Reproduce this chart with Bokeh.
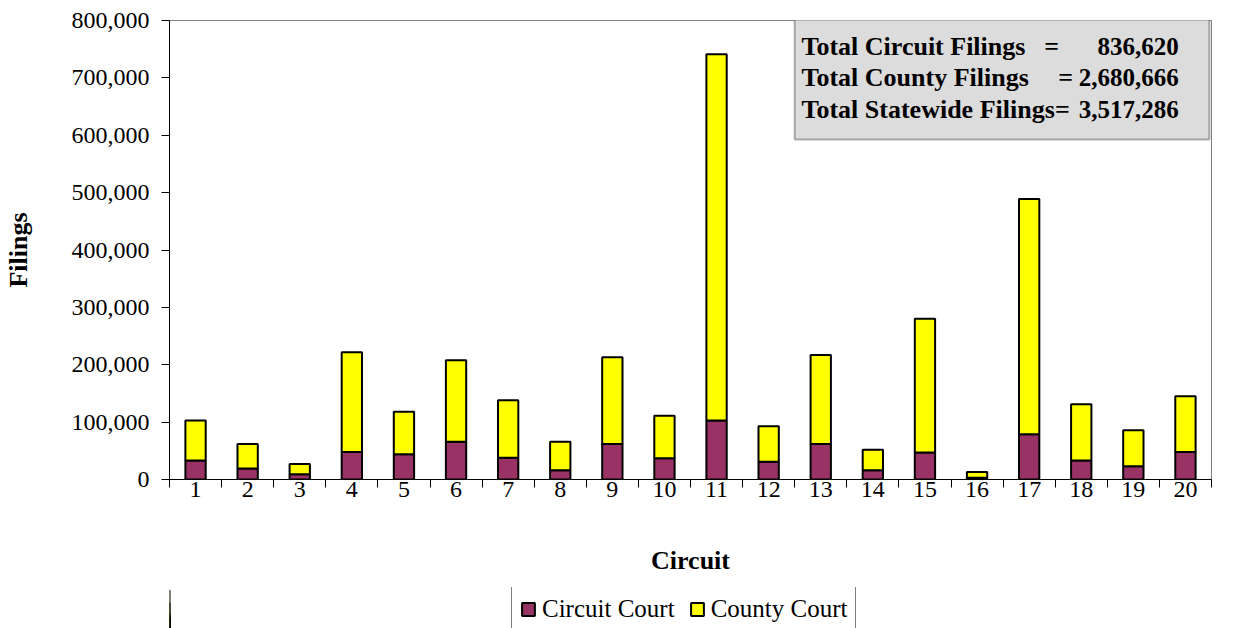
from bokeh.plotting import figure
from bokeh.layouts import column
from bokeh.models import (FixedTicker, NumeralTickFormatter, Range1d, Legend, LegendItem,
                          BoxAnnotation, Label, ColumnDataSource)
from bokeh.embed import file_html
from bokeh.resources import INLINE

circuits = list(range(1, 21))
circuit_court = [33000, 19000, 9000, 48000, 44000, 66000, 38000, 16000, 62000, 37000,
                 103000, 31000, 62000, 16000, 47000, 3000, 79000, 33000, 23000, 48000]
county_court = [70000, 43000, 18000, 174000, 74000, 142000, 100000, 50000, 151000, 74000,
                638000, 62000, 155000, 36000, 233000, 10000, 410000, 98000, 63000, 97000]
y_ticks = [0, 100000, 200000, 300000, 400000, 500000, 600000, 700000, 800000]
summary_labels = ["Total Circuit Filings", "Total County Filings", "Total Statewide Filings"]
summary_values = ["836,620", "2,680,666", "3,517,286"]
series_names = ["Circuit Court", "County Court"]

FONT = "Liberation Serif"
PURPLE = "#993366"
YELLOW = "#FFFF00"

src = ColumnDataSource(dict(x=circuits, circuit=circuit_court, county=county_court))

p = figure(frame_width=1042, frame_height=459, output_backend="svg", toolbar_location=None,
           x_range=Range1d(0.5, 20.5), y_range=Range1d(0, 800000),
           min_border_left=168, min_border_right=15, min_border_top=20, min_border_bottom=108)
p.xgrid.visible = False
p.ygrid.visible = False
p.outline_line_color = "#808080"
p.outline_line_width = 1
p.background_fill_color = "white"

rs = p.vbar_stack(["circuit", "county"], x="x", width=0.39, source=src,
                  color=[PURPLE, YELLOW], line_color="black", line_width=2)

# x axis
xa = p.xaxis[0]
xa.ticker = FixedTicker(ticks=circuits, minor_ticks=[c - 0.5 for c in circuits] + [20.5])
xa.major_tick_out = 0
xa.major_tick_in = 0
xa.minor_tick_out = 8
xa.minor_tick_in = 0
xa.minor_tick_line_color = "black"
xa.axis_line_color = "black"
xa.major_label_text_font = FONT
xa.major_label_text_font_size = "24px"
xa.major_label_text_color = "black"
xa.major_label_standoff = -6
xa.axis_label = "Circuit"
xa.axis_label_text_font = FONT
xa.axis_label_text_font_size = "26px"
xa.axis_label_text_font_style = "bold"
xa.axis_label_text_color = "black"
xa.axis_label_standoff = 46

# y axis
ya = p.yaxis[0]
ya.ticker = FixedTicker(ticks=y_ticks)
ya.formatter = NumeralTickFormatter(format="0,0")
ya.major_tick_out = 8
ya.major_tick_in = 0
ya.minor_tick_out = 0
ya.minor_tick_in = 0
ya.major_tick_line_color = "black"
ya.axis_line_color = "black"
ya.major_label_text_font = FONT
ya.major_label_text_font_size = "24px"
ya.major_label_text_color = "black"
ya.major_label_standoff = 12
ya.axis_label = "Filings"
ya.axis_label_text_font = FONT
ya.axis_label_text_font_size = "26px"
ya.axis_label_text_font_style = "bold"
ya.axis_label_text_color = "black"
ya.axis_label_standoff = 36

# summary box
box = BoxAnnotation(left=12.50, right=20.46, top=807000, bottom=592400,
                    fill_color="#DCDCDC", fill_alpha=1.0, line_color="black", line_width=2,
                    level="overlay")
p.add_layout(box)

ys = [754600, 700500, 644700]
eq_x = [17.43, 17.70, 17.64]
for i in range(3):
    p.add_layout(Label(x=12.63, y=ys[i], text=summary_labels[i], text_font=FONT,
                       text_font_size="26px", text_font_style="bold", text_color="black",
                       text_align="left", text_baseline="middle", level="overlay"))
    p.add_layout(Label(x=eq_x[i], y=ys[i], text="=", text_font=FONT,
                       text_font_size="26px", text_font_style="bold", text_color="black",
                       text_align="center", text_baseline="middle", level="overlay"))
    p.add_layout(Label(x=19.87, y=ys[i], text=summary_values[i], text_font=FONT,
                       text_font_size="25px", text_font_style="bold", text_color="black",
                       text_align="right", text_baseline="middle", level="overlay"))

# legend strip below the chart (its bars lie outside its ranges, only the legend shows)
lf = figure(width=1225, height=41, output_backend="svg", toolbar_location=None,
            x_range=Range1d(30, 31), y_range=Range1d(0, 800000),
            x_axis_location=None, y_axis_location=None, min_border=0,
            min_border_left=168, min_border_right=15)
lf.xgrid.visible = False
lf.ygrid.visible = False
lf.outline_line_color = None
lrs = lf.vbar_stack(["circuit", "county"], x="x", width=0.39, source=src,
                    color=[PURPLE, YELLOW], line_color="black", line_width=2)
legend = Legend(items=[LegendItem(label=series_names[0], renderers=[lrs[0]]),
                       LegendItem(label=series_names[1], renderers=[lrs[1]])],
                orientation="horizontal", location=(342, -4),
                label_text_font=FONT, label_text_font_size="25px", label_text_color="black",
                glyph_width=16, glyph_height=16, label_standoff=6, spacing=14,
                padding=8, margin=0, border_line_color="black", border_line_width=1,
                background_fill_color="white", background_fill_alpha=1.0)
lf.add_layout(legend, "center")

layout = column(p, lf, spacing=0)
open("out.html", "w").write(file_html(layout, INLINE))
